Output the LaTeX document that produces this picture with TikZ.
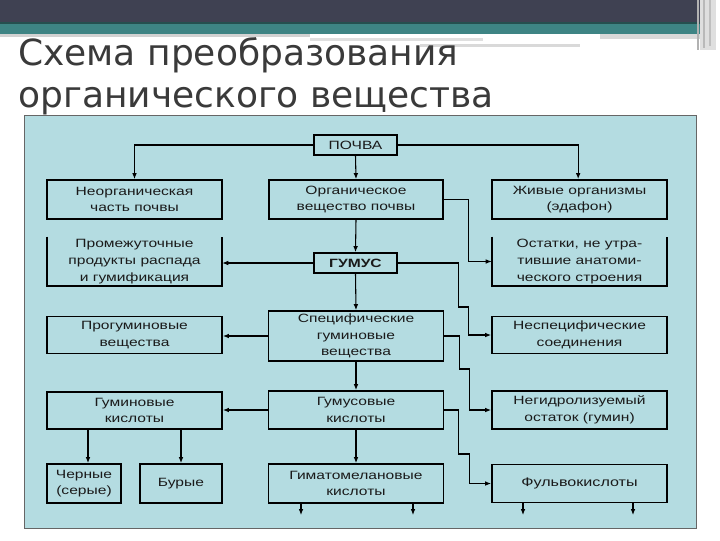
\documentclass[tikz,border=0pt]{standalone}
\usepackage{fontspec}
\setmainfont{Liberation Sans}
\newfontfamily\boxfont[FakeStretch=1.3]{Liberation Sans}
\newfontfamily\titlefont{DejaVu Sans}
\usetikzlibrary{arrows.meta}
\definecolor{darkband}{HTML}{3F4152}
\definecolor{tealband}{HTML}{3E8484}
\definecolor{panelfill}{HTML}{B4DCE1}
\definecolor{titlegray}{HTML}{3A3A3A}
\definecolor{boxtext}{HTML}{1A1A1A}
\tikzset{
  wh/.style 2 args={minimum width=#1*0.75pt, minimum height=#2*0.75pt},
  box/.style={draw=black, line width=1.3pt, inner sep=0pt, align=center, text=boxtext,
    font=\boxfont\fontsize{9}{12.5}\selectfont},
  openbox/.style={draw=none, inner sep=0pt, align=center, text=boxtext,
    font=\boxfont\fontsize{9}{12.5}\selectfont},
  boxline/.style={draw=black, line width=1.3pt},
  conn/.style={draw=black, line width=0.8pt, -{Latex[length=4.5pt,width=3.5pt]}},
  titletext/.style={inner sep=0pt, text=titlegray, font=\titlefont\fontsize{27}{32}\selectfont}
}
\begin{document}
\begin{tikzpicture}[x=0.75pt,y=-0.75pt]
\useasboundingbox (0,0) rectangle (720,540);
\fill[white] (0,0) rectangle (720,540);
% header bands
\fill[darkband] (0,0) rectangle (700,23);
\fill[tealband] (0,23) rectangle (700,34);
\fill[tealband!60!black] (0,22) rectangle (700,23.5);
\fill[gray!35] (0,34) rectangle (310,37);
\fill[gray!25] (310,38) rectangle (483,41);
\fill[gray!30] (420,44) rectangle (580,47);
\fill[gray!30] (600,34) rectangle (700,39);
\fill[gray!25] (700,0) rectangle (716,50);
\draw[gray!60, line width=1pt] (698,0) -- (698,50);
\draw[gray!55, line width=1pt] (704,0) -- (704,48);
\draw[gray!50, line width=1pt] (710,0) -- (710,46);
% title
\node[titletext, anchor=base west] (t1) at (18,65) {Схема преобразования};
\node[titletext, anchor=base west] (t2) at (18,107) {органического вещества};
% panel
\draw[fill=panelfill, draw=black!60, line width=0.6pt] (24,115) rectangle (696,528);
% boxes
\node[box, wh={83}{20}] (pochva) at (355.5,145) {ПОЧВА};
\node[box, wh={175}{39}] (neorg) at (134.5,199.5) {Неорганическая\\часть почвы};
\node[box, wh={174}{39}] (org) at (356,199.5) {Органическое\\вещество почвы};
\node[box, wh={175}{39}] (zhiv) at (579.5,199.5) {Живые организмы\\(эдафон)};
\node[openbox, wh={175}{49}] (prom) at (134.5,261.5) {Промежуточные\\продукты распада\\и гумификация};
\draw[boxline] (prom.north west) -- (prom.south west) -- (prom.south east) -- (prom.north east);
\node[box, wh={83}{20}, font=\boxfont\bfseries\fontsize{9}{12.5}\selectfont] (gumus) at (355.5,263) {ГУМУС};
\node[openbox, wh={175}{49}] (ost) at (579.5,261.5) {Остатки, не утра-\\тившие анатоми-\\ческого строения};
\draw[boxline] (ost.north west) -- (ost.south west) -- (ost.south east) -- (ost.north east);
\node[box, wh={175}{37}] (progum) at (134.5,335) {Прогуминовые\\вещества};
\node[box, wh={175}{50}] (spec) at (356,336) {Специфические\\гуминовые\\вещества};
\node[box, wh={175}{37}] (nespec) at (579.5,335) {Неспецифические\\соединения};
\node[box, wh={175}{37}] (gumin) at (134.5,410.5) {Гуминовые\\кислоты};
\node[box, wh={175}{38}] (gumus2) at (356,410) {Гумусовые\\кислоты};
\node[box, wh={175}{38}] (negid) at (579.5,410) {Негидролизуемый\\остаток (гумин)};
\node[box, wh={74}{39}] (chern) at (84,483.5) {Черные\\(серые)};
\node[box, wh={82}{39}] (bur) at (181,483.5) {Бурые};
\node[box, wh={175}{39}] (gimat) at (356,483.5) {Гиматомелановые\\кислоты};
\node[box, wh={175}{38}, font=\boxfont\fontsize{9.3}{12.5}\selectfont] (fulv) at (579.5,483.5) {Фульвокислоты};
% connectors
\draw[conn] (pochva.west) -| (neorg.north);
\draw[conn] (pochva.east) -| ([xshift=-1pt]zhiv.north);
\draw[conn] (pochva.south) -- (org.north);
\draw[conn] (org.south) -- (gumus.north);
\draw[conn] (gumus.south) -- (spec.north);
\draw[conn] (spec.south) -- (gumus2.north);
\draw[conn] (gumus2.south) -- (gimat.north);
\draw[conn] (gumus.west) -- (gumus.west -| prom.east);
\draw[conn] (spec.west) -- (spec.west -| progum.east);
\draw[conn] (gumus2.west) -- (gumus2.west -| gumin.east);
\draw[conn] ([xshift=3pt]chern.north |- gumin.south) -- ([xshift=3pt]chern.north);
\draw[conn] (bur.north |- gumin.south) -- (bur.north);
% staircase connectors on the right
\draw[conn] (org.east) -- ++(25,0) |- (ost.west);
\draw[conn] (gumus.east) -- ++(61,0) -- ++(0,44) -- ++(10,0) |- (nespec.west);
\draw[conn] (spec.east) -- ++(15,0) -- ++(0,33) -- ++(10,0) |- (negid.west);
\draw[conn] (gumus2.east) -- ++(14,0) -- ++(0,44) -- ++(11,0) |- (fulv.west);
% open-ended arrows below
\coordinate (ga) at (301,515);
\coordinate (gb) at (413,515);
\coordinate (fa) at (523,515);
\coordinate (fb) at (633,515);
\draw[conn] (ga |- gimat.south) -- (ga);
\draw[conn] (gb |- gimat.south) -- (gb);
\draw[conn] (fa |- fulv.south) -- (fa);
\draw[conn] (fb |- fulv.south) -- (fb);
\end{tikzpicture}
\end{document}
